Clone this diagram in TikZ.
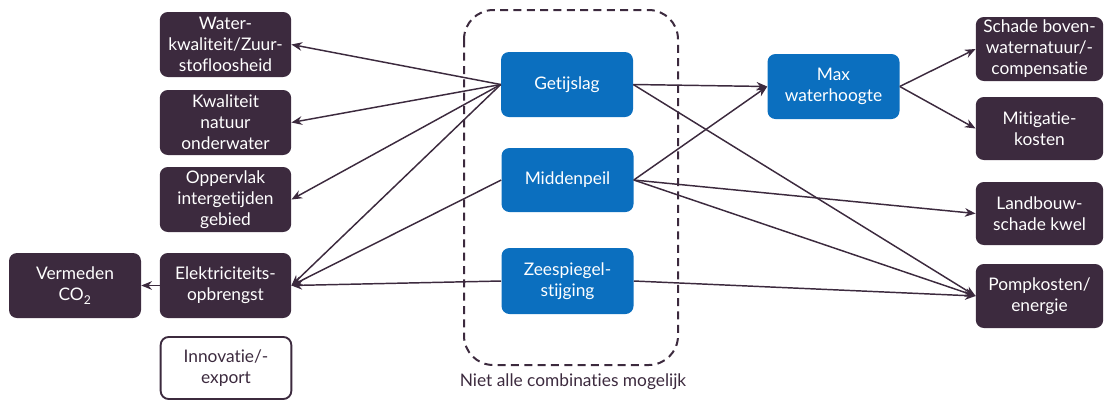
\documentclass[tikz,border=0pt]{standalone}
\usepackage{fontspec}
\setmainfont{Lato}[Ligatures={NoCommon}]
\usetikzlibrary{arrows.meta}
\definecolor{dark}{HTML}{3C2A3E}
\definecolor{blu}{HTML}{0B6FBF}
\begin{document}
\begin{tikzpicture}[x=0.75pt,y=-0.75pt,
  base/.style={rounded corners=6pt, align=center, inner sep=0pt, font=\fontsize{13}{15.75}\selectfont, text=white},
  darkbox/.style={base, fill=dark, minimum width=98.5pt, minimum height=48.75pt},
  bluebox/.style={base, fill=blu, minimum width=99pt, minimum height=48.75pt},
  openbox/.style={base, draw=dark, line width=1.4pt, fill=white, text=dark, minimum width=98pt, minimum height=46.5pt},
  conn/.style={draw=dark, line width=1.1pt, -{Stealth[length=8pt,width=6.5pt]}}]
\useasboundingbox (0,0) rectangle (1104,401);
% dashed group
\draw[dark, line width=1.5pt, dash pattern=on 6pt off 4pt, rounded corners=22pt] (464,10) rectangle (678,365);
\node[text=dark, font=\fontsize{13}{15}\selectfont] (lbl) at (573,382) {Niet alle combinaties mogelijk};
% left column
\node[darkbox] (water) at (225.5,44.5) {Water-\\kwaliteit/Zuur-\\stofloosheid};
\node[darkbox] (kwal) at (225.5,122.5) {Kwaliteit\\natuur\\onderwater};
\node[darkbox] (opp) at (225.5,199.5) {Oppervlak\\intergetijden\\gebied};
\node[darkbox] (elek) at (225.5,285.5) {Elektriciteits-\\opbrengst};
\node[darkbox, minimum width=99pt] (verm) at (75,285.5) {Vermeden\\CO\textsubscript{2}};
\node[openbox] (innov) at (226,368) {Innovatie/-\\export};
% center
\node[bluebox] (get) at (567,84.5) {Getijslag};
\node[bluebox, minimum height=48pt] (mid) at (567.5,180) {Middenpeil};
\node[bluebox, minimum height=49.5pt] (zee) at (567.5,281) {Zeespiegel-\\stijging};
\node[bluebox] (max) at (833.5,86.5) {Max\\waterhoogte};
% right column
\node[darkbox, minimum width=95.5pt, minimum height=48pt] (schade) at (1039.5,49) {Schade boven-\\waternatuur/-\\compensatie};
\node[darkbox, minimum width=95.5pt, minimum height=47.25pt] (mitig) at (1039.5,128.5) {Mitigatie-\\kosten};
\node[darkbox, minimum width=95.5pt, minimum height=47.25pt] (land) at (1039.5,213.5) {Landbouw-\\schade kwel};
\node[darkbox, minimum width=95.5pt, minimum height=48pt] (pomp) at (1039.5,296) {Pompkosten/\\energie};
% connectors left
\draw[conn] (get.west) -- (water.east);
\draw[conn] (get.west) -- (kwal.east);
\draw[conn] (get.west) -- (opp.east);
\draw[conn] (get.west) -- (elek.east);
\draw[conn] (mid.west) -- (elek.east);
\draw[conn] (zee.west) -- (elek.east);
\draw[conn] (elek.west) -- (verm.east);
% connectors right
\draw[conn] (get.east) -- (max.west);
\draw[conn] (mid.east) -- (max.west);
\draw[conn] (get.east) -- (pomp.west);
\draw[conn] (mid.east) -- (land.west);
\draw[conn] (mid.east) -- (pomp.west);
\draw[conn] (zee.east) -- (pomp.west);
\draw[conn] (max.east) -- (schade.west);
\draw[conn] (max.east) -- (mitig.west);
\end{tikzpicture}
\end{document}
